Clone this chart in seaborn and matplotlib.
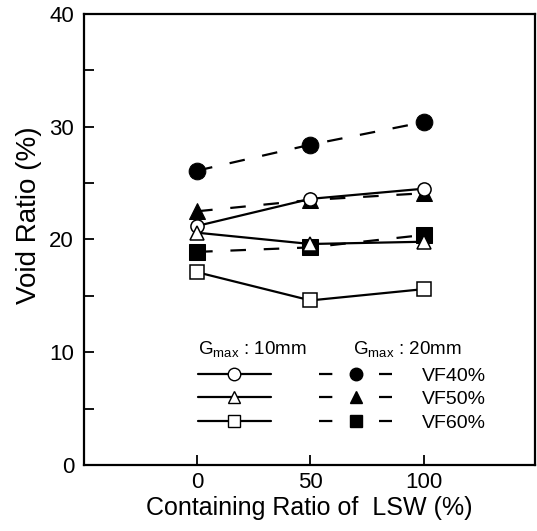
import numpy as np
import pandas as pd
import matplotlib
matplotlib.use("Agg")
import matplotlib.pyplot as plt
from matplotlib.lines import Line2D
from matplotlib.ticker import MultipleLocator
import seaborn as sns

# data
lsw_ratio = [0, 50, 100]
vf_labels = ["VF40%", "VF50%", "VF60%"]
g10_vf40 = [21.2, 23.6, 24.5]
g10_vf50 = [20.6, 19.6, 19.8]
g10_vf60 = [17.1, 14.6, 15.6]
g20_vf40 = [26.1, 28.4, 30.4]
g20_vf50 = [22.5, 23.5, 24.1]
g20_vf60 = [18.9, 19.3, 20.4]

sns.set_style("ticks")
plt.rcParams["font.family"] = ["Liberation Sans", "DejaVu Sans"]
plt.rcParams["text.color"] = "black"
plt.rcParams["axes.labelcolor"] = "black"
plt.rcParams["xtick.color"] = "black"
plt.rcParams["ytick.color"] = "black"

fig = plt.figure(figsize=(5.37, 5.31), dpi=100)
ax = fig.add_axes([0.156, 0.124, 0.84, 0.85])

markers = ["o", "^", "s"]
dash = (0, (7, 8))
g10 = [g10_vf40, g10_vf50, g10_vf60]
g20 = [g20_vf40, g20_vf50, g20_vf60]

for vals, m in zip(g20, markers):
    sns.lineplot(x=lsw_ratio, y=vals, ax=ax, color="black", linestyle=dash,
                 linewidth=1.6, marker=m, markersize=12 if m != "s" else 11.5,
                 markerfacecolor="black", markeredgecolor="black")
for vals, m in zip(g10, markers):
    sns.lineplot(x=lsw_ratio, y=vals, ax=ax, color="black", linewidth=1.6,
                 marker=m, markersize=9.5, markerfacecolor="white",
                 markeredgecolor="black", markeredgewidth=1.1)

ax.set_xlim(-50, 149)
ax.set_ylim(0, 40)
ax.set_xticks(lsw_ratio)
ax.yaxis.set_major_locator(MultipleLocator(10))
ax.yaxis.set_minor_locator(MultipleLocator(5))
ax.tick_params(axis="both", direction="in", labelsize=16, length=7, width=1.3)
ax.tick_params(axis="y", which="minor", direction="in", length=7, width=1.3)
ax.tick_params(axis="x", pad=5)
ax.tick_params(axis="y", pad=7)
for s in ax.spines.values():
    s.set_linewidth(1.6)
    s.set_color("black")

ax.set_xlabel("Containing Ratio of  LSW (%)", fontsize=18, labelpad=2)
ax.set_ylabel("Void Ratio (%)", fontsize=20)
ax.yaxis.set_label_coords(-0.093, 0.554)

# legend: open markers column (10mm) and filled markers column (20mm)
handles = []
for m in markers:
    handles.append(Line2D([], [], color="black", lw=1.6, marker=m, markersize=9,
                          markerfacecolor="white", markeredgewidth=1.0))
for m in markers:
    handles.append(Line2D([], [], color="black", lw=1.6, linestyle=(0, (6, 21)),
                          marker=m, markersize=9, markerfacecolor="black"))
labels = ["", "", ""] + vf_labels
ax.legend(handles, labels, ncol=2, frameon=False, handlelength=3.75,
          columnspacing=1.0, labelspacing=0.3, handletextpad=1.5, fontsize=14,
          borderpad=0, borderaxespad=0,
          loc="upper left", bbox_to_anchor=(0.253, 0.217))

ax.text(0.253, 0.244, r"G$_{\mathregular{max}}$ : 10mm", transform=ax.transAxes,
        fontsize=13.5, va="baseline")
ax.text(0.596, 0.244, r"G$_{\mathregular{max}}$ : 20mm", transform=ax.transAxes,
        fontsize=13.5, va="baseline")

fig.savefig("out.png", dpi=100)
